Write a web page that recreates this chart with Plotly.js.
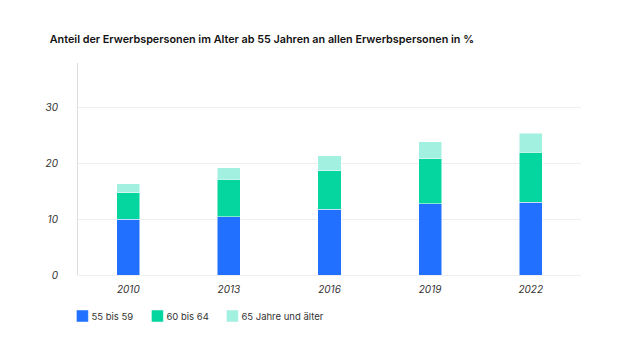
<!DOCTYPE html>
<html><head><meta charset="utf-8">
<script src="https://cdn.plot.ly/plotly-3.0.1.min.js"></script>
<style>html,body{margin:0;padding:0;background:#fff;}#chart{width:630px;height:354px;}</style>
</head><body><div id="chart"></div>
<script>
const years = ["2010", "2013", "2016", "2019", "2022"];
const seriesNames = ["55 bis 59", "60 bis 64", "65 Jahre und älter"];
const age55to59 = [10.0, 10.4, 11.8, 12.75, 13.05];
const age60to64 = [4.7, 6.8, 6.9, 8.05, 8.95];
const age65plus = [1.65, 2.0, 2.7, 3.1, 3.4];
const colors = ["#2170ff", "#05d59e", "#a2f0e0"];
const values = [age55to59, age60to64, age65plus];

const traces = values.map((v, i) => ({
  type: "bar", x: years, y: v, name: seriesNames[i],
  marker: {color: colors[i], line: {color: "#ffffff", width: 0.5}},
  width: 0.23
}));

const layout = {
  width: 630, height: 354,
  margin: {l: 78, r: 49, t: 63, b: 79},
  paper_bgcolor: "#fff", plot_bgcolor: "#fff",
  barmode: "stack",
  font: {family: "Inter, 'Liberation Sans', sans-serif", color: "#333"},
  title: {text: "Anteil der Erwerbspersonen im Alter ab 55 Jahren an allen Erwerbspersonen in %",
    font: {size: 10.8, color: "#111", family: "Inter, sans-serif", weight: 600},
    x: 0.079, xanchor: "left", y: 0.89, yanchor: "middle"},
  xaxis: {type: "category", showgrid: false, zeroline: false, showline: false,
    tickfont: {size: 10, color: "#333", style: "italic"}, ticks: "", ticklabelstandoff: 7},
  yaxis: {range: [0, 38], tickvals: [0, 10, 20, 30], showgrid: true, gridcolor: "#eeeeee",
    zeroline: true, zerolinecolor: "#eeeeee", showline: true, linecolor: "#dddddd", linewidth: 1,
    tickfont: {size: 10, color: "#333", style: "italic"}, ticks: "", ticklabelstandoff: 17},
  legend: {orientation: "h", x: -0.031, xanchor: "left", y: -0.125, yanchor: "top",
    font: {size: 9.5, color: "#333"}, traceorder: "normal", itemwidth: 30,
    entrywidth: 30, entrywidthmode: "pixels"},
  showlegend: true
};
Plotly.newPlot("chart", traces, layout, {displayModeBar: false, staticPlot: true}).then(gd => {
  gd.querySelectorAll(".legendtext").forEach(t => {
    const x = parseFloat(t.getAttribute("x")) || 0;
    t.setAttribute("x", x - 11);
  });
  gd.querySelectorAll(".legend .scrollbox, .legend").forEach(e => e.removeAttribute("clip-path"));
});
</script></body></html>
